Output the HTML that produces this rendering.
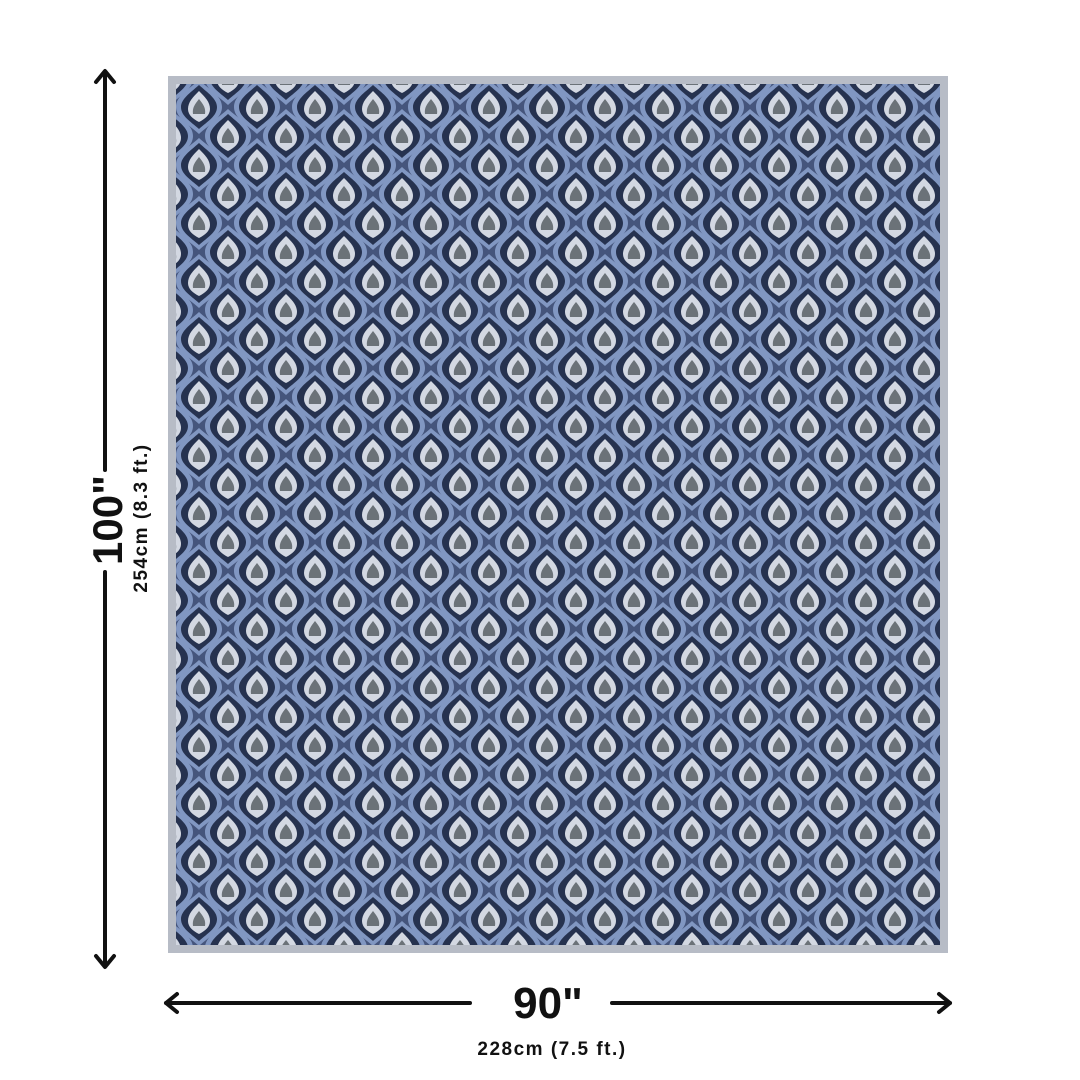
<!DOCTYPE html>
<html><head><style>
html,body{margin:0;padding:0;background:#fff;width:1080px;height:1080px;overflow:hidden}
.t{position:absolute;font-family:"Liberation Sans",sans-serif;font-weight:bold;color:#111;white-space:nowrap}
</style></head><body>
<svg width="1080" height="1080" style="position:absolute;left:0;top:0">
<defs>
<pattern id="p" x="170" y="78" width="58" height="58" patternUnits="userSpaceOnUse">
<rect width="58" height="58" fill="#45557c"/>
<g id="m">
<path d="M29 2 C40 12 52 18 52 29 C52 40 40 46 29 56 C18 46 6 40 6 29 C6 18 18 12 29 2Z" fill="#8197c2"/>
<path d="M29 7 C38 15 47 21 47 29 C47 38 38 43 29 51 C20 43 11 38 11 29 C11 21 20 15 29 7Z" fill="#26324f"/>
<path d="M29 13 C35 19 40 24 40 31 C40 37 35 41 29 44 C23 41 18 37 18 31 C18 24 23 19 29 13Z" fill="#d3d8e2"/>
<path d="M29 21 C33 26 36 30 35 36 L23 36 C22 30 25 26 29 21Z" fill="#6b7278"/>
</g>
<use href="#m" x="-29" y="-29"/><use href="#m" x="29" y="-29"/>
<use href="#m" x="-29" y="29"/><use href="#m" x="29" y="29"/>
</pattern>
</defs>
<rect x="168" y="76" width="780" height="877" fill="#b7bcc6"/>
<rect x="176" y="84" width="764" height="861" fill="url(#p)"/>
<g stroke="#111" stroke-width="4" fill="none" stroke-linecap="round" stroke-linejoin="round">
<line x1="105" y1="72" x2="105" y2="470"/>
<line x1="105" y1="572" x2="105" y2="966"/>
<polyline points="96,82 105,71 114,82"/>
<polyline points="96,956 105,967 114,956"/>
<line x1="166" y1="1003" x2="470" y2="1003"/>
<line x1="612" y1="1003" x2="950" y2="1003"/>
<polyline points="177,994 166,1003 177,1012"/>
<polyline points="939,994 950,1003 939,1012"/>
</g>
</svg>
<div class="t" style="left:108px;top:520px;font-size:42px;transform:translate(-50%,-50%) rotate(-90deg)">100"</div>
<div class="t" style="left:142px;top:518px;font-size:19px;letter-spacing:1.5px;transform:translate(-50%,-50%) rotate(-90deg)">254cm (8.3 ft.)</div>
<div class="t" style="left:548px;top:1004px;font-size:44px;transform:translate(-50%,-50%)">90"</div>
<div class="t" style="left:552px;top:1050px;font-size:19px;letter-spacing:1.5px;transform:translate(-50%,-50%)">228cm (7.5 ft.)</div>
</body></html>
